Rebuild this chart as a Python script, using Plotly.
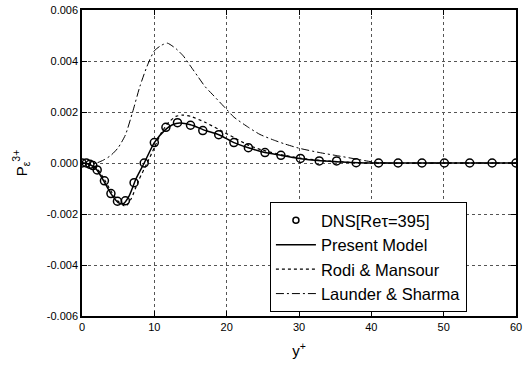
import plotly.graph_objects as go

# DNS data, Re_tau = 395
dns_y = [0.0, 0.6, 1.1, 1.5, 2.1, 3.1, 4.0, 4.9, 6.0, 7.2, 8.6, 10.0, 11.6, 13.2, 15.0,
         16.7, 18.9, 21.0, 23.0, 25.3, 27.5, 30.2, 32.8, 35.2, 37.9, 41.0, 43.7, 47.0,
         50.1, 53.6, 56.7, 60.0]
dns_p = [0.0, 0.0, -0.00005, -0.0001, -0.00027, -0.0007, -0.0012, -0.0015, -0.00148,
         -0.00077, 0.0, 0.0008, 0.0014, 0.00158, 0.00148, 0.00127, 0.00111, 0.0008,
         0.0006, 0.00041, 0.0003, 0.00018, 0.00008, 0.00008, 0.00001, 0.0, 0.0, 0.0,
         0.0, 0.0, 0.0, 0.0]

# Present model
pm_y = [0, 1, 2, 3, 4, 5, 5.7, 6.5, 7.5, 8.6, 10, 11.5, 12.5, 13.5, 15, 17, 19, 21,
        23, 25, 27.5, 30, 33, 36, 40, 50, 60]
pm_p = [0.0, -0.00005, -0.00025, -0.0007, -0.0012, -0.00155, -0.0016, -0.0013,
        -0.0006, 0.0, 0.0008, 0.0013, 0.0015, 0.00157, 0.0015, 0.00128, 0.0011,
        0.0008, 0.0006, 0.00043, 0.0003, 0.00018, 0.00009, 0.00004, 0.0, 0.0, 0.0]

# Rodi & Mansour
rm_y = [0, 1, 2, 3, 4, 5, 6, 6.8, 7.8, 9, 10, 11, 12, 13, 14, 15, 17, 19, 21, 23, 25,
        28, 31, 34, 37, 40, 50, 60]
rm_p = [0.0, -0.00005, -0.0002, -0.0006, -0.0011, -0.0015, -0.0017, -0.0014, -0.0007,
        0.0, 0.0006, 0.0012, 0.0016, 0.00183, 0.00188, 0.00183, 0.0016, 0.0013, 0.001,
        0.0007, 0.0005, 0.0003, 0.00016, 0.00008, 0.00003, 0.0, 0.0, 0.0]

# Launder & Sharma
ls_y = [0, 1, 2, 3, 4, 5, 6, 7, 8, 9, 10, 11, 11.8, 13, 14, 15, 16, 17, 18, 19, 20,
        21, 23, 24.6, 26.5, 28, 30, 33, 35, 38, 40, 42, 50, 60]
ls_p = [0.0, -0.00002, 0.0, 0.00012, 0.0003, 0.0006, 0.0011, 0.002, 0.003, 0.0038,
        0.0044, 0.00462, 0.0047, 0.00448, 0.0042, 0.0038, 0.0034, 0.003, 0.0027,
        0.0024, 0.0021, 0.0018, 0.0014, 0.00112, 0.0009, 0.00075, 0.00058, 0.0004,
        0.0003, 0.00015, 0.00005, 0.0, 0.0, 0.0]

x_ticks = [0, 10, 20, 30, 40, 50, 60]
y_ticks = [-0.006, -0.004, -0.002, 0.0, 0.002, 0.004, 0.006]
y_labels = ["-0.006", "-0.004", "-0.002", "0.000", "0.002", "0.004", "0.006"]

font_family = "Liberation Sans, Arial"

fig = go.Figure()
fig.add_trace(go.Scatter(
    x=dns_y, y=dns_p, mode="markers", name="DNS[Reτ=395]", showlegend=False,
    marker=dict(symbol="circle-open", size=8, color="black", line=dict(width=1.5)),
))
# legend entry for the DNS markers, drawn with a smaller symbol
fig.add_trace(go.Scatter(
    x=[None], y=[None], mode="markers", name="DNS[Reτ=395]",
    marker=dict(symbol="circle-open", size=6, color="black", line=dict(width=1.5)),
))
fig.add_trace(go.Scatter(
    x=pm_y, y=pm_p, mode="lines", name="Present Model",
    line=dict(color="black", width=1.5, shape="spline", smoothing=0.6),
))
fig.add_trace(go.Scatter(
    x=rm_y, y=rm_p, mode="lines", name="Rodi & Mansour",
    line=dict(color="black", width=1.2, dash="dot", shape="spline", smoothing=0.6),
))
fig.add_trace(go.Scatter(
    x=ls_y, y=ls_p, mode="lines", name="Launder & Sharma",
    line=dict(color="black", width=1.0, dash="8px,3px,2px,3px", shape="spline", smoothing=0.6),
))

axis_common = dict(
    showline=True, linecolor="black", linewidth=1.5, mirror="ticks",
    ticks="inside", ticklen=5, tickcolor="black", tickwidth=1,
    showgrid=True, gridcolor="#555", griddash="dot", gridwidth=1,
    zeroline=False, automargin=False,
    tickfont=dict(family=font_family, size=11, color="black"),
)

fig.update_xaxes(
    range=[0, 60], tickvals=x_ticks,
    title=dict(text="y<sup>+</sup>", font=dict(family=font_family, size=15, color="black"), standoff=14),
    **axis_common,
)
fig.update_yaxes(
    range=[-0.006, 0.006], tickvals=y_ticks, ticktext=y_labels,
    title=dict(text="P<sub>ε</sub><sup>3+</sup>", font=dict(family=font_family, size=15, color="black"), standoff=16),
    **axis_common,
)

fig.update_layout(
    width=527, height=366,
    margin=dict(l=82, r=11, t=10, b=50),
    paper_bgcolor="white", plot_bgcolor="white",
    legend=dict(
        x=0.433, y=0.3725, xanchor="left", yanchor="top",
        bgcolor="white", bordercolor="black", borderwidth=1,
        font=dict(family=font_family, size=16.5, color="black"),
        itemwidth=40,
    ),
)

fig.write_html("out.html")
